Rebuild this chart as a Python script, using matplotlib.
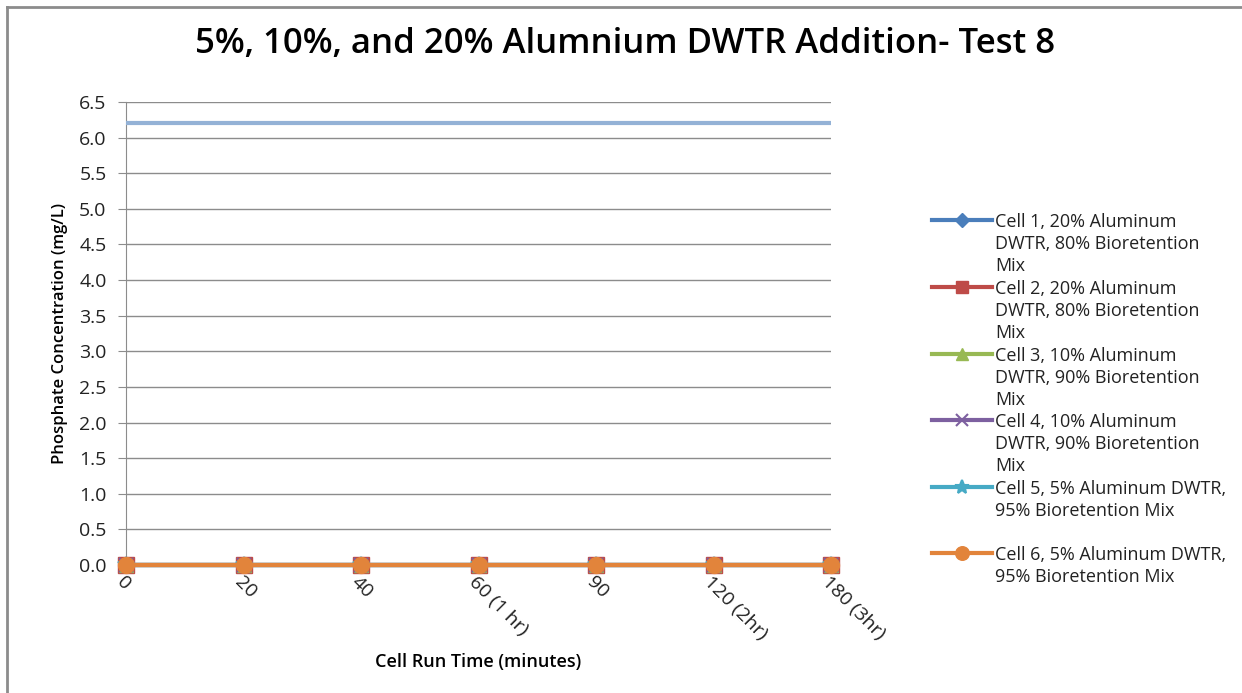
import matplotlib.pyplot as plt
from matplotlib.lines import Line2D

plt.rcParams['font.family'] = ['Open Sans', 'DejaVu Sans']

times = ['0', '20', '40', '60 (1 hr)', '90', '120 (2hr)', '180 (3hr)']

cell1 = [0.0, 0.0, 0.0, 0.0, 0.0, 0.0, 0.0]
cell2 = [0.0, 0.0, 0.0, 0.0, 0.0, 0.0, 0.0]
cell3 = [0.0, 0.0, 0.0, 0.0, 0.0, 0.0, 0.0]
cell4 = [0.0, 0.0, 0.0, 0.0, 0.0, 0.0, 0.0]
cell5 = [0.0, 0.0, 0.0, 0.0, 0.0, 0.0, 0.0]
cell6 = [0.0, 0.0, 0.0, 0.0, 0.0, 0.0, 0.0]
influent = [6.2, 6.2, 6.2, 6.2, 6.2, 6.2, 6.2]

labels = [
    'Cell 1, 20% Aluminum\nDWTR, 80% Bioretention\nMix',
    'Cell 2, 20% Aluminum\nDWTR, 80% Bioretention\nMix',
    'Cell 3, 10% Aluminum\nDWTR, 90% Bioretention\nMix',
    'Cell 4, 10% Aluminum\nDWTR, 90% Bioretention\nMix',
    'Cell 5, 5% Aluminum DWTR,\n95% Bioretention Mix',
    'Cell 6, 5% Aluminum DWTR,\n95% Bioretention Mix',
]

colors = ['#4a7ebb', '#be4b48', '#98b954', '#7d60a0', '#46aac5', '#e2843b']
markers = ['D', 's', '^', 'x', '*', 'o']
msizes = [8, 11, 10, 10, 12, 11.5]

W, H = 1242, 693
fig = plt.figure(figsize=(W / 100, H / 100), dpi=100)
ax = fig.add_axes([126 / W, 1 - 565 / H, (831 - 126) / W, (565 - 102) / H])

xs = list(range(len(times)))
ax.plot(xs, influent, color='#94b2d6', lw=3, solid_capstyle='butt', zorder=3)
series = [cell1, cell2, cell3, cell4, cell5, cell6]
for vals, c, m, ms in zip(series, colors, markers, msizes):
    ax.plot(xs, vals, color=c, lw=3, marker=m, markersize=ms,
            markeredgewidth=1.5 if m in ('x', '*') else 1, clip_on=False, zorder=4)

ax.set_xlim(0, 6)
ax.set_ylim(0, 6.5)
ax.set_yticks([i * 0.5 for i in range(14)])
ax.set_yticklabels([f'{i * 0.5:.1f}' for i in range(14)], fontsize=14, color='#222222')
ax.grid(axis='y', color='#8c8c8c', lw=1)
ax.set_axisbelow(True)
ax.tick_params(axis='y', length=6, color='#8c8c8c', pad=8)
ax.tick_params(axis='x', length=0, pad=6)
ax.set_xticks(xs)
ax.set_xticklabels(times, rotation=-45, ha='left', va='top', rotation_mode='anchor',
                   fontsize=14, color='#222222')
for s in ['top', 'right', 'bottom']:
    ax.spines[s].set_visible(False)
ax.spines['left'].set_color('#8c8c8c')

ax.set_ylabel('Phosphate Concentration (mg/L)', fontsize=12, fontweight='semibold', labelpad=8)
ax.set_xlabel('Cell Run Time (minutes)', fontsize=13, fontweight='semibold', labelpad=7)

fig.text(625 / W, 1 - 44 / H, '5%, 10%, and 20% Alumnium DWTR Addition- Test 8',
         ha='center', va='center', fontsize=25, fontweight='semibold')

# legend drawn by hand so the handle sits on each entry's first line
leg_y = [220, 287, 354, 420, 487, 553]
for lab, c, m, ms, y in zip(labels, colors, markers, msizes, leg_y):
    fy = 1 - y / H
    fig.add_artist(Line2D([932 / W, 992 / W], [fy, fy], color=c, lw=3))
    fig.add_artist(Line2D([962 / W], [fy], color=c, marker=m, markersize=ms * 0.85,
                          markeredgewidth=1.5 if m in ('x', '*') else 1))
    fig.text(995 / W, 1 - (y - 7) / H, lab, ha='left', va='top', fontsize=13,
             color='#222222', linespacing=1.3, transform=fig.transFigure)

# chart border (top and left edges)
fig.add_artist(Line2D([7 / W, 1], [1 - 7 / H, 1 - 7 / H], color='#8c8c8c', lw=2))
fig.add_artist(Line2D([7 / W, 7 / W], [0, 1 - 7 / H], color='#8c8c8c', lw=2))

fig.savefig('out.png', dpi=100)
